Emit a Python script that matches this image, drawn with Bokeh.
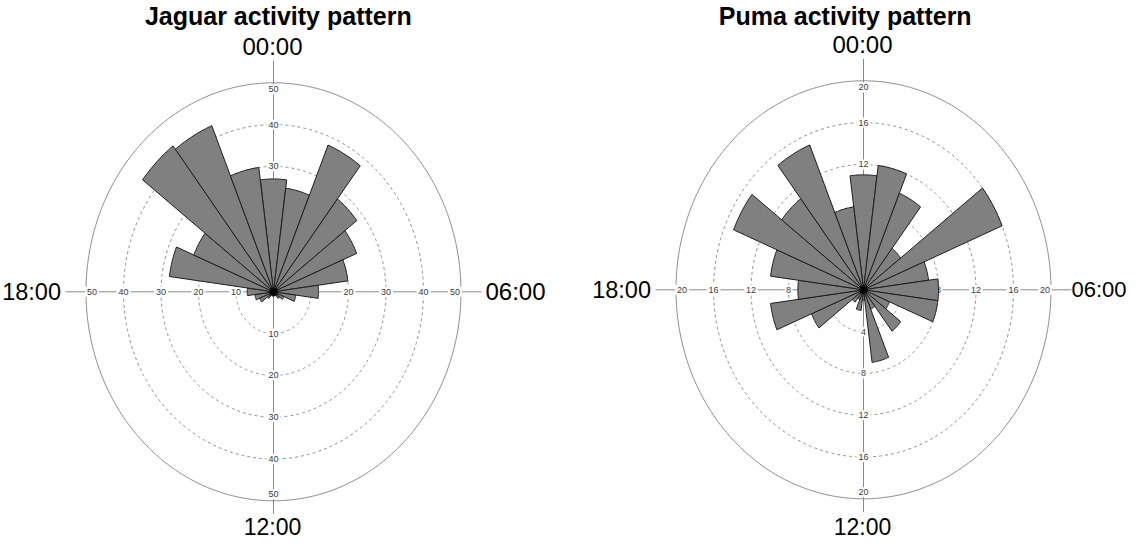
import numpy as np
from bokeh.plotting import figure
from bokeh.layouts import row
from bokeh.models import Range1d
from bokeh.core.properties import value
from bokeh.embed import file_html
from bokeh.resources import INLINE

# ---------------- data ----------------
HOURS = list(range(24))  # hourly bins, centred on each hour, clockwise from 00:00
JAGUAR_COUNTS = [27, 25, 38, 28, 24, 20, 12, 6, 3, 2, 1, 1,
                 1, 1, 1, 2, 4, 5, 7, 28, 23, 44, 43, 30]
PUMA_COUNTS = [11, 12, 10, 5, 16, 7, 8, 8, 3, 5, 2, 7,
               1, 2, 1, 1.5, 6, 10, 7, 10, 15, 11, 15, 8]
JAGUAR_RINGS = [10, 20, 30, 40, 50]
PUMA_RINGS = [4, 8, 12, 16, 20]
CLOCK_LABELS = ["00:00", "06:00", "12:00", "18:00"]
TITLES = ["Jaguar activity pattern", "Puma activity pattern"]

FONT = value("Liberation Sans")
FIG_W, FIG_H = 565, 541


def make_panel(counts, rings, title, cx, cy, rx, ry, fig_left, title_x, top_mid,
               right_size, right_gap):
    rmax = rings[-1]
    sx = rx / rmax
    sy = ry / rmax

    def X(px):
        return (px - cx) / sx

    def Y(py):
        return (cy - py) / sy

    p = figure(width=FIG_W, height=FIG_H,
               x_range=Range1d(X(fig_left), X(fig_left + FIG_W)),
               y_range=Range1d(Y(8 + FIG_H), Y(8)),
               output_backend="svg", toolbar_location=None, min_border=0,
               x_axis_location=None, y_axis_location=None)
    p.grid.visible = False
    p.outline_line_color = None
    p.background_fill_color = "white"

    # rings
    t = np.linspace(0, 2 * np.pi, 721)
    for r in rings[:-1]:
        p.line(r * np.sin(t), r * np.cos(t), line_color="#8a8a8a",
               line_dash="3 3", line_width=1)
    p.line(rmax * np.sin(t), rmax * np.cos(t), line_color="#8a8a8a", line_width=1)

    # axis lines
    p.segment(x0=[X(cx - 208), 0], y0=[0, Y(cy - 231)],
              x1=[X(cx + 208), 0], y1=[0, Y(cy + 222)],
              line_color="#8a8a8a", line_width=1)

    # ring tick labels on the four axes
    lx, ly, lt = [], [], []
    for r in rings:
        rl = r if r < rmax else r * 0.968
        for dx, dy in [(0, 1), (1, 0), (0, -1), (-1, 0)]:
            lx.append(dx * rl)
            ly.append(dy * rl)
            lt.append(str(r))
    p.rect(lx, ly, width=[6 * len(s) + 2 for s in lt], height=10,
           width_units="screen", height_units="screen",
           fill_color="white", line_color=None)
    p.text(lx, ly, text=lt, text_font=FONT, text_font_size="9px",
           text_color="#3a3a3a", text_align="center", text_baseline="middle")

    # rose bars
    xs, ys = [], []
    for h, v in zip(HOURS, counts):
        a = np.radians(np.linspace(h * 15 - 7.5, h * 15 + 7.5, 16))
        xs.append(np.concatenate([[0], v * np.sin(a), [0]]))
        ys.append(np.concatenate([[0], v * np.cos(a), [0]]))
    p.patches(xs, ys, fill_color="#808080", line_color="#1e1e1e", line_width=1)

    # centre
    p.scatter([0], [0], marker="asterisk", size=9, line_color="black", line_width=2)

    # clock labels
    p.text([X(cx - 1)], [Y(top_mid)], text=[CLOCK_LABELS[0]], text_font=FONT,
           text_font_size="24px", text_align="center", text_baseline="middle",
           text_color="black")
    p.text([X(cx + right_gap)], [Y(cy)], text=[CLOCK_LABELS[1]], text_font=FONT,
           text_font_size=right_size, text_align="left", text_baseline="middle",
           text_color="black")
    p.text([X(cx - 1)], [Y(534)], text=[CLOCK_LABELS[2]], text_font=FONT,
           text_font_size="23px", text_align="center", text_baseline="middle",
           text_color="black")
    p.text([X(cx - 212.5)], [Y(cy)], text=[CLOCK_LABELS[3]], text_font=FONT,
           text_font_size="23.5px", text_align="right", text_baseline="middle",
           text_color="black")

    # title
    p.text([X(title_x)], [Y(23.5)], text=[title], text_font=FONT,
           text_font_size="25px", text_font_style="bold", text_align="center",
           text_baseline="middle", text_color="black")
    return p


p1 = make_panel(JAGUAR_COUNTS, JAGUAR_RINGS, TITLES[0],
                cx=281, cy=299.3, rx=187.5, ry=209, fig_left=8,
                title_x=285.8, top_mid=54, right_size="24px", right_gap=212)
p2 = make_panel(PUMA_COUNTS, PUMA_RINGS, TITLES[1],
                cx=871, cy=297.3, rx=187.5, ry=209, fig_left=8 + FIG_W,
                title_x=852.7, top_mid=52, right_size="22px", right_gap=208)

layout = row(p1, p2, spacing=0)
open("out.html", "w").write(file_html(layout, INLINE))
